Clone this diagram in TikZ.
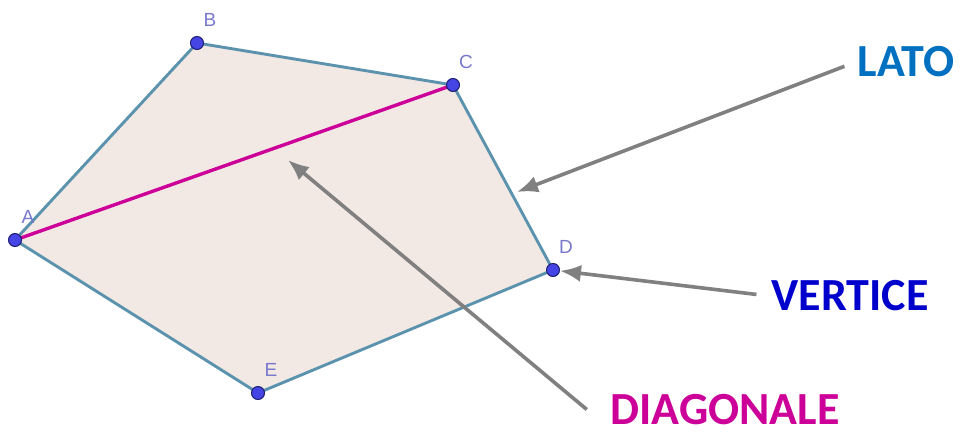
\documentclass[tikz,border=0pt]{standalone}
\usepackage{fontspec}
\usepackage{tikz}
\usetikzlibrary{arrows.meta,positioning}
\setmainfont{Carlito}
\newfontfamily\ggbfont{Liberation Sans}
\definecolor{PolyEdge}{HTML}{5B93AE}
\definecolor{PolyFill}{HTML}{F3E9E4}
\definecolor{PointFill}{HTML}{4545E6}
\definecolor{PointDraw}{HTML}{1E1E70}
\definecolor{PointText}{HTML}{7878CC}
\definecolor{DiagMagenta}{HTML}{CC0099}
\definecolor{LatoBlue}{HTML}{0070C0}
\definecolor{VertBlue}{HTML}{0000CC}
\definecolor{PointerGray}{HTML}{808080}
\tikzset{
  vertex/.style={
    circle,
    draw=PointDraw,
    fill=PointFill,
    line width=1pt,
    minimum size=13pt,
    inner sep=0pt
  },
  vlabel/.style={
    text=PointText,
    font=\ggbfont\fontsize{19}{19}\selectfont,
    inner sep=2pt
  },
  keyword/.style={
    font=\bfseries\fontsize{46}{46}\selectfont,
    inner sep=2pt
  },
  pointer/.style={-{Latex[length=21pt,width=17pt]},draw=PointerGray,line width=3.6pt}
}
\begin{document}
\begin{tikzpicture}[x=1pt,y=-1pt]
  \useasboundingbox (0,0) rectangle (960,431);
  % polygon
  \filldraw[fill=PolyFill,draw=PolyEdge,line width=2.9pt,line join=round]
    (15,240) -- (197,43) -- (453,85) -- (553,270) -- (258,393) -- cycle;
  \draw[DiagMagenta,line width=3.4pt] (15,240) -- (453,85);
  % vertices
  \foreach \name/\px/\py in {A/15/240,B/197/43,C/453/85,D/553/270,E/258/393}{
    \node[vertex] (\name) at (\px,\py) {};
    \node[vlabel] (l\name) at (\px+13,\py-23) {\name};
  }
  \coordinate (latotip) at (517,192);
  \coordinate (diagtip) at (288,160);
  % keywords
  \node[keyword,text=LatoBlue] (lato) at (906,62) {LATO};
  \node[keyword,text=VertBlue] (vertice) at (850,296) {VERTICE};
  \node[keyword,text=DiagMagenta] (diagonale) at (725,410) {DIAGONALE};
  % arrows
  \draw[pointer,shorten <=12pt] (lato.west) -- (latotip);
  \draw[pointer,shorten <=13pt] (vertice.west) -- (D);
  \draw[pointer,shorten <=28pt] (diagonale.south west) -- (diagtip);
\end{tikzpicture}
\end{document}
